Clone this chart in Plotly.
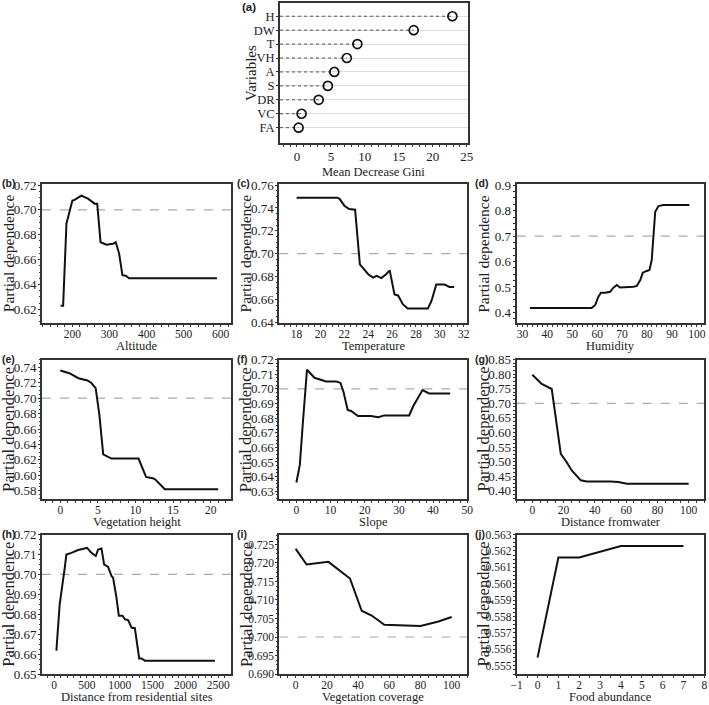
import plotly.graph_objects as go

W, H = 709, 705
SERIF = "Liberation Serif, Times New Roman, serif"
SANS = "Liberation Sans, Arial, sans-serif"
INK = "#222222"

# ---------------- data ----------------
# (a) importance
gini_vars = ["FA", "VC", "DR", "S", "A", "VH", "T", "DW", "H"]
gini_vals = [0.24, 0.68, 3.2, 4.55, 5.5, 7.35, 8.9, 17.2, 22.9]

# (b) Altitude
alt_x = [168, 175, 184, 200, 206, 224, 242, 260, 267, 276, 292, 310, 317, 326, 335, 344, 353, 590]
alt_y = [0.623, 0.623, 0.689, 0.7075, 0.708, 0.7115, 0.709, 0.705, 0.705, 0.674, 0.672, 0.6728, 0.674, 0.665, 0.6475, 0.647, 0.645, 0.645]

# (c) Temperature
tem_x = [18.0, 21.4, 21.6, 22.0, 22.4, 22.9, 23.3, 23.6, 24.0, 24.4, 24.7, 25.1, 25.5, 25.8, 26.2, 26.5, 26.9, 27.3, 29.0, 29.3, 29.7, 30.4, 30.8, 31.2]
tem_y = [0.749, 0.749, 0.748, 0.742, 0.739, 0.7385, 0.6906, 0.687, 0.682, 0.679, 0.6806, 0.6786, 0.682, 0.6854, 0.6643, 0.6634, 0.6557, 0.652, 0.652, 0.6586, 0.6729, 0.6729, 0.6709, 0.6709]

# (d) Humidity
hum_x = [33, 57.8, 59.2, 60.5, 61.5, 63.2, 65.2, 66.5, 67.9, 69.2, 74.6, 75.9, 77.3, 78.3, 79.9, 81.0, 81.9, 83.3, 84.6, 86.6, 97]
hum_y = [0.417, 0.417, 0.429, 0.462, 0.477, 0.477, 0.481, 0.497, 0.508, 0.498, 0.501, 0.504, 0.527, 0.556, 0.563, 0.567, 0.606, 0.796, 0.818, 0.822, 0.822]

# (e) Vegetation height
vh_x = [0, 1.2, 2.4, 3.6, 4.1, 4.7, 5.2, 5.7, 6.8, 10.4, 11.4, 12.4, 12.7, 13.9, 21]
vh_y = [0.7357, 0.7323, 0.7258, 0.7228, 0.7198, 0.7129, 0.6776, 0.6273, 0.6217, 0.6217, 0.598, 0.596, 0.594, 0.582, 0.582]

# (f) Slope
slo_x = [0, 1, 1.9, 3.1, 5.3, 7.3, 8.7, 11.7, 12.9, 13.8, 15, 16, 18, 21.8, 24, 25.7, 28.6, 33, 34.2, 36.9, 38.8, 45]
slo_y = [0.636, 0.648, 0.677, 0.713, 0.7075, 0.706, 0.705, 0.705, 0.704, 0.6977, 0.6855, 0.6848, 0.6814, 0.6814, 0.6805, 0.6818, 0.6818, 0.6818, 0.6882, 0.6991, 0.6968, 0.6968]

# (g) Distance from water
dw_x = [0, 6, 12.4, 14.5, 18.2, 22, 25.2, 31, 34.8, 49.8, 55, 60.5, 100]
dw_y = [0.798, 0.766, 0.749, 0.669, 0.527, 0.498, 0.47, 0.436, 0.432, 0.432, 0.43, 0.424, 0.424]

# (h) Distance from residential sites
dr_x = [36, 86, 163, 188, 264, 366, 467, 503, 569, 635, 671, 722, 762, 823, 874, 899, 950, 986, 1042, 1077, 1128, 1179, 1230, 1280, 1296, 1331, 1382, 2449]
dr_y = [0.6617, 0.685, 0.7033, 0.710, 0.7108, 0.7122, 0.713, 0.7133, 0.7108, 0.7092, 0.7125, 0.713, 0.705, 0.7037, 0.6992, 0.6983, 0.6883, 0.6792, 0.6792, 0.6775, 0.677, 0.6733, 0.673, 0.663, 0.6578, 0.6578, 0.6567, 0.6567]

# (i) Vegetation coverage
vc_x = [0, 7, 21, 34.8, 42.3, 48.7, 56.8, 72.2, 80, 91.5, 100]
vc_y = [0.7238, 0.7196, 0.7203, 0.7158, 0.7071, 0.7058, 0.7033, 0.7031, 0.703, 0.7042, 0.7054]

# (j) Food abundance
fa_x = [0, 1, 2, 4, 7]
fa_y = [0.5555, 0.5616, 0.5616, 0.5623, 0.5623]

# ---------------- layout helpers ----------------
def px_x(v):
    return v / W

def px_y(v):
    return 1 - v / H

cols = [(42.0, 231.0), (279.3, 467.3), (516.7, 704.3)]
rows = [(184.0, 323.3), (359.5, 499.3), (534.5, 674.0)]

panels = [
    # label, x, y, xtitle, xrange, yrange, xdtick, xminor, ydtick, yminor, yfmt, ytickfont, row, col
    ("(b)", alt_x, alt_y, "Altitude", [118, 628], [0.6088, 0.7208], 100, 20, 0.02, 0.005, ".2f", 13, 0, 0),
    ("(c)", tem_x, tem_y, "Temperature", [16.55, 32.3], [0.639, 0.761], 2, 0.5, 0.02, 0.005, ".2f", 13, 0, 1),
    ("(d)", hum_x, hum_y, "Humidity", [27.7, 103.0], [0.357, 0.905], 10, 2, 0.1, 0.025, ".1f", 13, 0, 2),
    ("(e)", vh_x, vh_y, "Vegetation height", [-2.44, 22.7], [0.569, 0.750], 5, 1, 0.02, 0.005, ".2f", 13, 1, 0),
    ("(f)", slo_x, slo_y, "Slope", [-5, 50], [0.6245, 0.720], 10, 2, 0.01, 0.0025, ".2f", 13, 1, 1),
    ("(g)", dw_x, dw_y, "Distance fromwater", [-10, 110], [0.371, 0.850], 20, 5, 0.05, 0.0125, ".2f", 13, 1, 2),
    ("(h)", dr_x, dr_y, "Distance from residential sites", [-183, 2693], [0.650, 0.720], 500, 100, 0.01, 0.0025, ".2f", 13, 2, 0),
    ("(i)", vc_x, vc_y, "Vegetation coverage", [-10.5, 110], [0.690, 0.7277], 20, 5, 0.005, 0.00125, ".3f", 11.5, 2, 1),
    ("(j)", fa_x, fa_y, "Food abundance", [-1, 8], [0.5545, 0.563], 1, 0.5, 0.001, 0.00025, ".3f", 11.5, 2, 2),
]

fig = go.Figure()
layout = dict(
    width=W, height=H, margin=dict(l=0, r=0, t=0, b=0),
    paper_bgcolor="white", plot_bgcolor="white", showlegend=False,
    font=dict(family=SERIF, color=INK),
)
annotations = []
shapes = []

def axis_common():
    return dict(showline=True, linecolor="#333333", linewidth=2, mirror=True,
                ticks="outside", ticklen=2, tickwidth=1, tickcolor="#333333",
                showgrid=False, zeroline=False, automargin=False)

# ---- panel (a)
ax_l, ax_r, ay_t, ay_b = 280.0, 468.0, 3.0, 143.0
xa = axis_common()
xa.update(domain=[px_x(ax_l), px_x(ax_r)], range=[-2.5, 25.2], dtick=5, tick0=0,
          anchor="y", tickfont=dict(family=SERIF, size=13, color=INK), ticklabelstandoff=-2,
          minor=dict(ticks="outside", ticklen=1.5, dtick=1, tickcolor="#333333"))
ya = axis_common()
ya.update(domain=[px_y(ay_b), px_y(ay_t)], range=[-1.1, 8.95], anchor="x",
          tickmode="array", tickvals=list(range(len(gini_vars))), ticktext=gini_vars,
          showgrid=True, gridcolor="#dcdcdc", gridwidth=1, ticklabelstandoff=-1,
          tickfont=dict(family=SERIF, size=12.5, color=INK))
layout["xaxis"] = xa
layout["yaxis"] = ya
for i, (nm, v) in enumerate(zip(gini_vars, gini_vals)):
    fig.add_trace(go.Scatter(x=[-2.5, v], y=[i, i], mode="lines", xaxis="x", yaxis="y",
                             line=dict(color="#555555", width=1, dash="dot"), hoverinfo="skip"))
fig.add_trace(go.Scatter(x=gini_vals, y=list(range(len(gini_vars))), mode="markers",
                         xaxis="x", yaxis="y",
                         marker=dict(symbol="circle-open", size=9, color="#111111",
                                     line=dict(width=1.7, color="#111111"))))
annotations.append(dict(text="Mean Decrease Gini", xref="paper", yref="paper",
                        x=px_x((ax_l + ax_r) / 2), y=px_y(172), xanchor="center", yanchor="middle",
                        showarrow=False, font=dict(family=SERIF, size=12.5, color=INK)))
annotations.append(dict(text="Variables", xref="paper", yref="paper", textangle=-90,
                        x=px_x(251), y=px_y((ay_t + ay_b) / 2), xanchor="center", yanchor="middle",
                        showarrow=False, font=dict(family=SERIF, size=15, color=INK)))
annotations.append(dict(text="<b>(a)</b>", xref="paper", yref="paper",
                        x=px_x(240), y=px_y(7), xanchor="left", yanchor="middle",
                        showarrow=False, font=dict(family=SANS, size=11.5, color=INK)))

# ---- panels (b)-(j)
for k, (lab, xs, ys, xt, xr, yr, xd, xm, yd, ym, yf, yfs, r, c) in enumerate(panels):
    n = k + 2
    xn, yn = f"xaxis{n}", f"yaxis{n}"
    xref, yref = f"x{n}", f"y{n}"
    L, R = cols[c]
    T, B = rows[r]
    xa = axis_common()
    xa.update(domain=[px_x(L), px_x(R)], range=xr, dtick=xd, tick0=0, anchor=yref,
              tickfont=dict(family=SERIF, size=11.5, color=INK), ticklabelstandoff=-3,
              minor=dict(ticks="outside", ticklen=1.5, dtick=xm, tick0=0, tickcolor="#333333"))
    ya = axis_common()
    ya.update(domain=[px_y(B), px_y(T)], range=yr, dtick=yd, tick0=0, anchor=xref,
              tickformat=yf, tickfont=dict(family=SERIF, size=yfs, color=INK), ticklabelstandoff=-1,
              minor=dict(ticks="outside", ticklen=1.5, dtick=ym, tick0=0, tickcolor="#333333"))
    layout[xn] = xa
    layout[yn] = ya
    if yr[0] < 0.70 < yr[1]:
        shapes.append(dict(type="line", xref=f"{xref} domain", yref=yref, x0=0, x1=1, y0=0.70, y1=0.70,
                           line=dict(color="#aaaaaa", width=1.2, dash="dash"), layer="below"))
    fig.add_trace(go.Scatter(x=xs, y=ys, mode="lines", xaxis=xref, yaxis=yref,
                             line=dict(color="#111111", width=2)))
    annotations.append(dict(text=xt, xref="paper", yref="paper",
                            x=px_x((L + R) / 2), y=px_y(B + 23), xanchor="center", yanchor="middle",
                            showarrow=False, font=dict(family=SERIF, size=12.5, color=INK)))
    ysz = 15.5 if r == 0 else 16.5
    annotations.append(dict(text="Partial dependence", xref="paper", yref="paper", textangle=-90,
                            x=px_x(L - 33.5), y=px_y((T + B) / 2), xanchor="center", yanchor="middle",
                            showarrow=False, font=dict(family=SERIF, size=ysz, color=INK)))
    annotations.append(dict(text=f"<b>{lab}</b>", xref="paper", yref="paper",
                            x=px_x(max(L - 44, 0)), y=px_y(T - 1), xanchor="left", yanchor="middle",
                            showarrow=False, font=dict(family=SANS, size=10.5, color=INK)))

layout["annotations"] = annotations
layout["shapes"] = shapes
fig.update_layout(**layout)
fig.write_html("out.html")
